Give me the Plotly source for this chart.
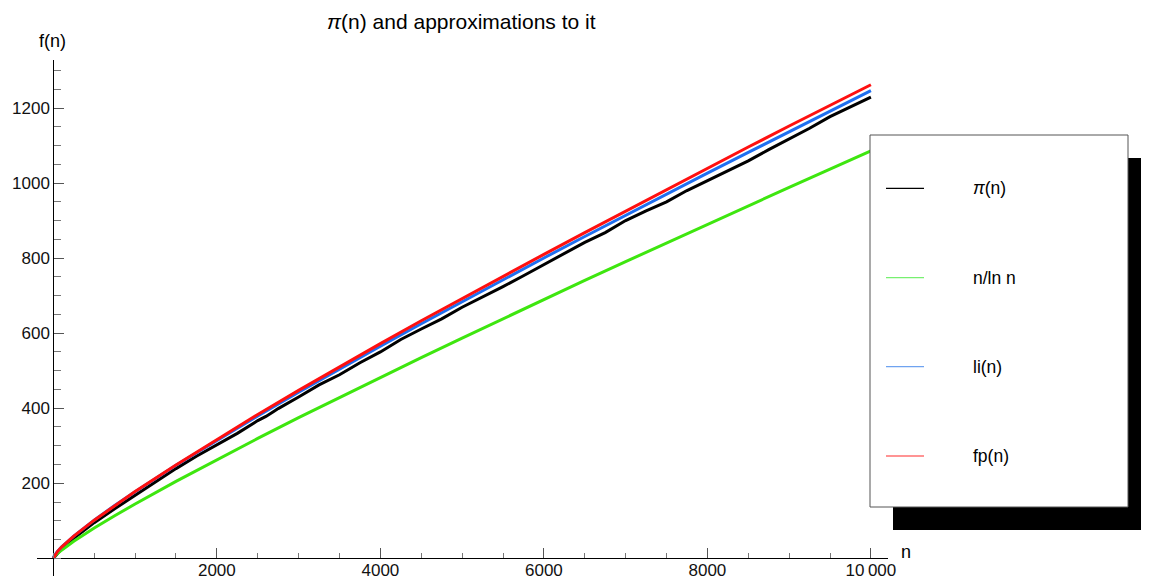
import plotly.graph_objects as go

# ---- data ----
n_pi = [0, 100, 250, 500, 750, 1000, 1250, 1500, 1750, 2000, 2250, 2500, 2600, 2700, 2750,
        3000, 3250, 3500, 3750, 4000, 4250, 4500, 4750, 5000, 5250, 5500, 5750, 6000,
        6250, 6500, 6750, 7000, 7250, 7500, 7750, 8000, 8250, 8500, 8750, 9000, 9250,
        9500, 9750, 10000]
pi_vals = [0, 25, 53, 95, 132, 168, 204, 239, 272, 303, 333, 367, 378, 392, 399,
           430, 462, 489, 521, 550, 583, 611, 638, 669, 696, 724, 753, 783,
           811, 842, 868, 900, 926, 950, 980, 1007, 1032, 1059, 1089, 1117, 1146,
           1177, 1203, 1229]

n_s = [0, 2, 10, 50, 100, 250, 500, 750, 1000, 1500, 2000, 2500, 3000, 3500, 4000,
       4500, 5000, 5500, 6000, 6500, 7000, 7500, 8000, 8500, 9000, 9500, 10000]
nlogn_vals = [0, 2.9, 4.3, 12.8, 21.7, 45.3, 80.5, 113.3, 144.8, 205.1, 263.1, 319.5,
              374.7, 428.9, 482.3, 535.0, 587.0, 638.6, 689.7, 740.4, 790.6, 840.6,
              890.2, 939.5, 988.5, 1037.2, 1085.7]
li_vals = [0, 1.0, 6.2, 18.4, 30.1, 59.3, 101.8, 140.7, 177.6, 247.8, 314.8, 379.6,
           442.7, 504.6, 565.3, 625.2, 684.3, 742.6, 800.4, 857.6, 914.3, 970.5,
           1026.3, 1081.8, 1136.9, 1191.6, 1246.1]
fp_vals = [0, 0.8, 5.8, 18.0, 30.0, 59.0, 101.6, 140.5, 177.8, 248.5, 316.8, 383.4,
           447.5, 510.4, 572.0, 633.0, 692.5, 751.6, 810.0, 868.0, 925.5, 982.5,
           1039.5, 1096.0, 1152.0, 1207.5, 1262.0]

names = ["\u03c0(n)", "n/ln n", "li(n)", "fp(n)"]
line_colors = ["#000000", "#3ee60f", "#1f6ff0", "#ff1010"]
legend_colors = ["#000000", "#77f070", "#6fa3f0", "#ff2a2a"]

x_ticks = [2000, 4000, 6000, 8000, 10000]
x_ticktext = ["2000", "4000", "6000", "8000", "10\u2009000"]
y_ticks = [200, 400, 600, 800, 1000, 1200]

# page has an 8px body margin; figure is sized/placed to compensate
OFF = 8
W, H = 1149 - OFF, 576 - OFF
FONT = "Liberation Sans, Arial, sans-serif"


def fx(p):
    return (p - OFF) / W


def fy(p):
    return 1 - (p - OFF) / H


fig = go.Figure()
series = [(n_pi, pi_vals), (n_s, nlogn_vals), (n_s, li_vals), (n_s, fp_vals)]
for (xs, ys), nm, c in zip(series, names, line_colors):
    fig.add_trace(go.Scatter(x=xs, y=ys, mode="lines", name=nm,
                             line=dict(color=c, width=3), showlegend=False))

# plot area in target (screenshot) pixels
px0, px1 = 37, 888
py_top, py_bot = 60, 576
x_min, x_max = -200, 10209
y0_pix, y1200_pix = 558.3, 108.0
ppu = (y0_pix - y1200_pix) / 1200.0
y_max = (y0_pix - py_top) / ppu
y_min = -(py_bot - y0_pix) / ppu
x_ppu = (px1 - px0) / (x_max - x_min)
x0_pix = px0 + (0 - x_min) * x_ppu

fig.update_layout(
    width=W, height=H,
    margin=dict(l=0, r=0, t=0, b=0),
    paper_bgcolor="white", plot_bgcolor="white",
    font=dict(family=FONT, size=17, color="#000000"),
    xaxis=dict(domain=[fx(px0), fx(px1)], range=[x_min, x_max],
               anchor="free", position=fy(y0_pix),
               showgrid=False, zeroline=False, showline=True,
               linecolor="#000000", linewidth=1,
               tickmode="array", tickvals=x_ticks, ticktext=x_ticktext,
               ticks="inside", ticklen=10, tickcolor="#555555", tickwidth=1,
               ticklabelstandoff=-4,
               minor=dict(dtick=500, tick0=0, ticks="inside", ticklen=5,
                          tickcolor="#777777", tickwidth=1),
               tickfont=dict(size=17, family=FONT, color="#111111"),
               automargin=False),
    yaxis=dict(domain=[max(0.0, fy(py_bot)), fy(py_top)], range=[y_min, y_max],
               anchor="free", position=fx(x0_pix),
               showgrid=False, zeroline=False, showline=True,
               linecolor="#000000", linewidth=1,
               tickmode="array", tickvals=y_ticks,
               ticks="inside", ticklen=10, tickcolor="#555555", tickwidth=1,
               minor=dict(dtick=50, tick0=0, ticks="inside", ticklen=7,
                          tickcolor="#777777", tickwidth=1),
               tickfont=dict(size=17, family=FONT, color="#111111"),
               automargin=False),
)

ann = []
ann.append(dict(x=fx(461), y=fy(22), xref="paper", yref="paper",
                text="<i>\u03c0</i>(n) and approximations to it", showarrow=False,
                font=dict(size=21, family=FONT, color="#000000"),
                xanchor="center", yanchor="middle"))
ann.append(dict(x=fx(52), y=fy(41), xref="paper", yref="paper", text="f(n)",
                showarrow=False, font=dict(size=18, family=FONT),
                xanchor="center", yanchor="middle"))
ann.append(dict(x=fx(906), y=fy(552), xref="paper", yref="paper", text="n",
                showarrow=False, font=dict(size=18, family=FONT),
                xanchor="center", yanchor="middle"))

shapes = []
# legend shadow and box
shapes.append(dict(type="rect", xref="paper", yref="paper",
                   x0=fx(893), x1=fx(1165), y0=fy(530), y1=fy(158),
                   fillcolor="#000000", line=dict(width=0), layer="above"))
shapes.append(dict(type="rect", xref="paper", yref="paper",
                   x0=fx(870), x1=fx(1128), y0=fy(507), y1=fy(135),
                   fillcolor="#ffffff", line=dict(color="#555555", width=1),
                   layer="above"))
leg_y = [188.3, 277.7, 366.7, 456.0]
for nm, c, ly in zip(names, legend_colors, leg_y):
    shapes.append(dict(type="line", xref="paper", yref="paper",
                       x0=fx(886), x1=fx(924), y0=fy(ly), y1=fy(ly),
                       line=dict(color=c, width=1.2), layer="above"))
    label = nm.replace("\u03c0", "<i>\u03c0</i>")
    ann.append(dict(x=fx(971), y=fy(ly), xref="paper", yref="paper",
                    text=label, showarrow=False,
                    font=dict(size=17.5, family=FONT, color="#000000"),
                    xanchor="left", yanchor="middle"))

fig.update_layout(shapes=shapes, annotations=ann)
fig.write_html("out.html")
